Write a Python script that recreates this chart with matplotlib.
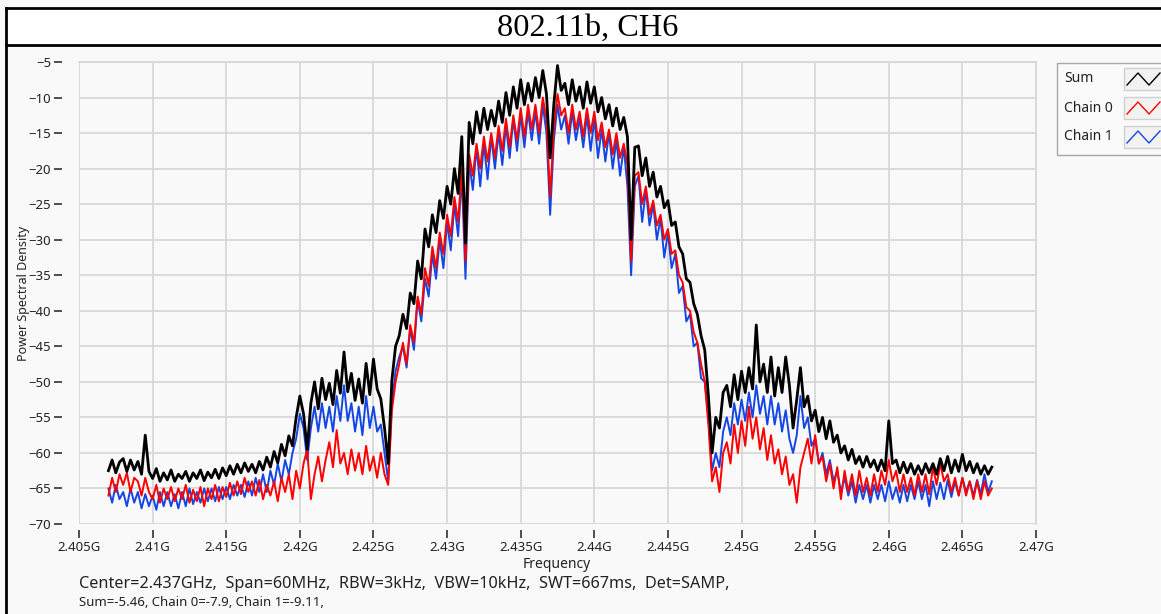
import numpy as np
import matplotlib.pyplot as plt
from matplotlib.patches import Rectangle
from matplotlib.lines import Line2D
from matplotlib.ticker import FuncFormatter

plt.rcParams['font.family'] = ['Noto Sans', 'DejaVu Sans']

# ---- data, 2.407 GHz .. 2.467 GHz, 0.25 MHz step ----
f_start_ghz = 2.407
f_stop_ghz = 2.467

sum_db = [
    -62.5, -61.0, -62.8, -61.3,  # 2.407
    -60.8, -62.6, -61.0, -62.4,
    -61.2, -63.0, -57.5, -62.6,
    -63.6, -62.2, -64.0, -62.8,  # 2.410
    -63.8, -62.4, -64.0, -63.0,
    -63.6, -62.6, -64.0, -62.8,
    -63.6, -62.4, -63.9, -62.7,
    -63.5, -62.3, -63.6, -62.1,
    -63.2, -61.8, -63.0, -61.6,  # 2.415
    -62.8, -61.4, -62.6, -61.6,
    -62.8, -61.2, -62.4, -60.6,
    -62.0, -59.8, -61.4, -58.8,
    -60.4, -57.6, -59.0, -55.0,
    -52.0, -54.5, -59.5, -53.0,  # 2.420
    -50.0, -53.8, -49.5, -52.5,
    -50.2, -53.2, -48.4, -51.6,
    -45.8, -51.4, -48.8, -52.6,
    -49.6, -53.0, -47.4, -51.8,
    -46.8, -51.0, -52.4, -56.5,  # 2.425
    -61.5, -49.8, -45.0, -43.5,
    -40.5, -42.5, -37.5, -39.0,
    -33.0, -35.5, -28.5, -31.0,
    -26.5, -29.0, -24.5, -27.0,
    -22.5, -25.0, -20.0, -23.5,  # 2.430
    -15.5, -30.5, -13.5, -16.5,
    -12.0, -15.0, -11.5, -14.5,
    -11.8, -14.0, -10.5, -13.5,
    -9.3, -12.5, -8.5, -11.5,
    -7.5, -11.0, -8.0, -10.5,  # 2.435
    -7.2, -10.0, -6.2, -9.5,
    -18.5, -11.0, -5.5, -9.0,
    -8.0, -11.0, -7.5, -10.5,
    -8.5, -11.5, -7.8, -10.8,
    -8.5, -12.0, -10.0, -13.0,  # 2.440
    -11.0, -14.0, -11.5, -14.5,
    -12.8, -15.5, -30.0, -17.0,
    -16.8, -21.0, -18.5, -22.5,
    -20.5, -24.0, -22.5, -25.5,
    -24.5, -28.0, -27.5, -31.0,  # 2.445
    -32.0, -35.5, -36.0, -39.0,
    -40.5, -43.5, -45.5, -52.0,
    -60.0, -55.0, -56.5, -51.5,
    -50.5, -53.5, -49.0, -52.5,
    -48.5, -51.5, -48.0, -51.0,  # 2.450
    -42.0, -50.0, -47.5, -51.5,
    -46.5, -52.0, -48.0, -51.5,
    -46.5, -50.5, -56.5, -52.5,
    -48.0, -53.5, -52.0, -55.5,
    -54.0, -57.0, -55.0, -58.0,  # 2.455
    -55.5, -58.5, -57.5, -60.0,
    -59.0, -61.0, -59.5, -61.5,
    -60.5, -62.0, -60.5, -62.0,
    -61.0, -62.5, -61.0, -62.5,
    -55.5, -61.5, -61.0, -62.8,  # 2.460
    -61.3, -62.8, -61.5, -63.0,
    -61.8, -63.0, -61.5, -62.8,
    -61.5, -63.0, -60.8, -62.5,
    -60.5, -62.8, -61.0, -62.6,
    -60.2, -62.5, -61.2, -62.8,  # 2.465
    -61.5, -63.0, -61.8, -63.0,
    -62.0,
]

chain0_db = [
    -66.0, -63.5, -65.5, -63.0,  # 2.407
    -64.5, -62.8, -65.5, -63.5,
    -64.0, -66.0, -63.5, -65.5,
    -66.5, -64.5, -67.0, -65.0,  # 2.410
    -66.5, -64.8, -66.8, -65.0,
    -66.5, -64.5, -67.0, -65.2,
    -66.8, -64.8, -67.5, -65.0,
    -66.5, -64.5, -66.8, -64.8,
    -66.2, -64.2, -66.0, -64.0,  # 2.415
    -65.8, -63.5, -65.5, -64.0,
    -66.0, -63.8, -66.5, -64.5,
    -66.0, -64.0, -66.8, -63.5,
    -65.5, -63.0, -66.5, -62.5,
    -65.0, -61.5, -59.5, -66.5,  # 2.420
    -63.0, -60.5, -64.0, -61.0,
    -58.5, -62.0, -56.8, -61.5,
    -60.0, -63.0, -59.5, -62.5,
    -60.0, -63.0, -59.0, -62.5,
    -60.5, -63.5, -60.0, -63.0,  # 2.425
    -64.5, -54.0, -50.0, -47.5,
    -44.5, -47.5, -42.0, -44.5,
    -38.0, -40.5, -34.0, -36.5,
    -31.0, -34.0, -29.0, -32.0,
    -26.5, -29.5, -24.0, -27.5,  # 2.430
    -20.0, -33.0, -18.0, -21.0,
    -16.5, -20.0, -15.5, -19.0,
    -15.0, -18.5, -14.0, -17.5,
    -13.0, -17.0, -12.5, -16.0,
    -11.5, -15.5, -11.0, -14.5,  # 2.435
    -11.0, -15.0, -10.0, -13.0,
    -24.0, -14.5, -9.5, -12.5,
    -11.5, -15.0, -11.0, -14.5,
    -12.0, -15.5, -11.5, -15.0,
    -12.0, -16.0, -13.5, -17.0,  # 2.440
    -14.5, -18.0, -15.0, -18.5,
    -16.5, -19.5, -33.0, -21.0,
    -20.5, -25.0, -22.5, -26.5,
    -24.5, -28.0, -26.5, -30.0,
    -28.5, -32.0, -31.5, -35.0,  # 2.445
    -36.0, -39.5, -40.0, -43.0,
    -44.5, -47.5, -50.0, -56.0,
    -64.0, -62.0, -65.5, -60.0,
    -58.5, -61.5, -56.0, -60.0,
    -55.5, -59.0, -53.5, -58.0,  # 2.450
    -55.0, -59.5, -56.5, -61.0,
    -57.5, -61.5, -59.5, -63.0,
    -60.5, -64.5, -63.0, -67.0,
    -62.0, -60.0, -58.0, -61.5,
    -57.5, -61.5, -60.5, -64.0,  # 2.455
    -61.5, -65.0, -62.0, -66.5,
    -62.5, -65.5, -63.0, -66.0,
    -62.5, -65.5, -63.5, -66.0,
    -63.0, -65.5, -62.5, -64.5,
    -61.0, -64.0, -62.5, -65.5,  # 2.460
    -63.0, -65.5, -63.5, -66.0,
    -63.0, -65.5, -63.0, -65.8,
    -62.0, -64.5, -61.5, -64.0,
    -63.0, -65.5, -63.5, -66.0,
    -63.5, -66.0, -64.0, -66.5,  # 2.465
    -64.0, -66.5, -64.0, -66.0,
    -65.0,
]

chain1_db = [
    -65.0, -67.0, -64.5, -66.5,  # 2.407
    -65.5, -67.5, -65.0, -67.0,
    -65.5, -67.8, -65.8, -67.5,
    -66.0, -68.0, -65.5, -67.5,  # 2.410
    -65.5, -67.5, -65.8, -67.8,
    -65.5, -67.5, -65.0, -67.2,
    -65.5, -67.0, -65.0, -66.8,
    -65.0, -66.8, -64.8, -66.5,
    -64.8, -66.5, -64.5, -66.0,  # 2.415
    -64.5, -66.2, -64.0, -66.0,
    -63.5, -65.5, -63.0, -65.5,
    -62.5, -64.5, -61.5, -64.0,
    -61.0, -63.0, -60.0, -58.0,
    -54.5, -56.5, -61.0, -56.5,  # 2.420
    -53.5, -57.0, -53.0, -56.5,
    -53.5, -57.0, -52.0, -55.5,
    -50.5, -55.5, -53.0, -57.0,
    -53.5, -57.5, -52.0, -56.5,
    -53.5, -57.0, -56.0, -60.0,  # 2.425
    -64.0, -53.0, -48.5, -46.5,
    -45.0, -48.0, -42.5, -45.5,
    -38.5, -41.5, -35.5, -38.0,
    -32.0, -35.5, -30.0, -34.0,
    -27.5, -31.5, -25.0, -29.5,  # 2.430
    -21.0, -35.5, -19.0, -23.0,
    -17.0, -22.5, -16.5, -21.5,
    -15.5, -20.0, -15.0, -19.5,
    -14.0, -18.5, -13.0, -17.5,
    -12.5, -17.0, -12.0, -16.0,  # 2.435
    -12.0, -16.5, -11.0, -15.0,
    -26.5, -16.0, -11.0, -14.5,
    -12.5, -16.5, -12.0, -16.0,
    -13.0, -17.0, -12.5, -17.5,
    -13.0, -18.5, -14.5, -19.0,  # 2.440
    -15.0, -20.0, -16.0, -21.0,
    -17.0, -22.5, -35.0, -22.5,
    -21.0, -27.5, -23.0, -28.0,
    -25.0, -30.0, -27.0, -32.5,
    -29.0, -34.0, -32.0, -37.5,  # 2.445
    -36.5, -41.5, -40.5, -45.0,
    -44.5, -49.5, -50.0, -55.0,
    -62.5, -60.0, -62.0, -57.0,
    -55.0, -57.5, -53.0, -56.0,
    -52.5, -55.5, -51.5, -55.0,  # 2.450
    -50.5, -54.5, -52.0, -56.0,
    -52.0, -56.0, -53.0, -57.0,
    -54.0, -58.0, -60.0, -57.5,
    -52.0, -56.5, -55.0, -59.0,
    -58.0, -61.5, -60.0, -63.0,  # 2.455
    -61.0, -64.0, -62.5, -65.5,
    -63.5, -66.0, -64.0, -67.0,
    -64.5, -66.5, -64.5, -67.0,
    -64.5, -66.5, -64.5, -66.8,
    -64.0, -66.5, -64.8, -67.0,  # 2.460
    -64.5, -66.8, -64.5, -66.5,
    -64.0, -66.5, -64.5, -67.5,
    -64.0, -66.5, -64.2, -66.5,
    -63.8, -66.2, -64.0, -66.0,
    -63.5, -65.5, -64.0, -66.0,  # 2.465
    -63.8, -65.8, -63.0, -65.5,
    -64.0,
]

x_ticks_ghz = [2.405, 2.41, 2.415, 2.42, 2.425, 2.43, 2.435, 2.44,
               2.445, 2.45, 2.455, 2.46, 2.465, 2.47]
y_ticks = list(range(-70, 0, 5))

series_names = ['Sum', 'Chain 0', 'Chain 1']
series_colors = ['#000000', '#ff0000', '#1446e6']

title = '802.11b, CH6'
info_line1 = 'Center=2.437GHz,  Span=60MHz,  RBW=3kHz,  VBW=10kHz,  SWT=667ms,  Det=SAMP,'
info_line2 = 'Sum=-5.46, Chain 0=-7.9, Chain 1=-9.11,'

# ---- figure ----
W, H = 1161, 614


def fx(px):
    return px / W


def fy(py):
    return 1 - py / H


fig = plt.figure(figsize=(W / 100, H / 100), dpi=100, facecolor='#f9f9f9')

# title cell and outer frame
fig.add_artist(Rectangle((fx(6), fy(45)), 1.0, fy(8) - fy(45),
                         transform=fig.transFigure, facecolor='white', edgecolor='none'))
fig.add_artist(Line2D([fx(6), fx(6)], [fy(8), 0], transform=fig.transFigure, color='black', lw=2))
fig.add_artist(Line2D([fx(6), 1], [fy(8), fy(8)], transform=fig.transFigure, color='black', lw=2))
fig.add_artist(Line2D([fx(6), 1], [fy(45), fy(45)], transform=fig.transFigure, color='black', lw=2))
fig.text(fx(588), fy(28), title, ha='center', va='center', fontsize=23.3,
         family=['Liberation Serif', 'DejaVu Serif'])

ax = fig.add_axes([fx(79), fy(524), fx(1036) - fx(79), fy(62) - fy(524)])
ax.set_facecolor('#f9f9f9')

freq = np.linspace(f_start_ghz * 1e9, f_stop_ghz * 1e9, len(sum_db))
ax.plot(freq, chain1_db, color=series_colors[2], lw=1.4)
ax.plot(freq, chain0_db, color=series_colors[1], lw=1.4)
ax.plot(freq, sum_db, color=series_colors[0], lw=2.0)

ax.set_xlim(2.405e9, 2.47e9)
ax.set_ylim(-70, -5)
ax.set_xticks([v * 1e9 for v in x_ticks_ghz])
ax.set_yticks(y_ticks)
ax.xaxis.set_major_formatter(FuncFormatter(lambda v, p: f'{v / 1e9:g}G'))
ax.grid(True, color='#d8d8d8', lw=1.3)
ax.set_axisbelow(True)

for s in ['top', 'right']:
    ax.spines[s].set_color('#d8d8d8')
    ax.spines[s].set_linewidth(1.3)
ax.spines['left'].set_position(('outward', 12))
ax.spines['bottom'].set_position(('outward', 4))
ax.spines['left'].set_color('none')
ax.spines['bottom'].set_color('none')
ax.tick_params(direction='out', length=6, width=1.3, color='#404040',
               labelsize=9.5, labelcolor='#222222', pad=2)

fig.text(fx(24), fy(293), 'Power Spectral Density', rotation=90,
         ha='center', va='center', fontsize=9, color='#222222')
fig.text(fx(557), fy(565), 'Frequency', ha='center', va='center',
         fontsize=10, color='#222222')
fig.text(fx(79), fy(584), info_line1, ha='left', va='center', fontsize=11.7, color='#222222')
fig.text(fx(79), fy(602), info_line2, ha='left', va='center', fontsize=9.5, color='#222222')

# legend (drawn by hand, it runs off the right edge like the original)
fig.add_artist(Rectangle((fx(1057), fy(155)), 1.0, fy(63) - fy(155),
                         transform=fig.transFigure, facecolor='#fafafa',
                         edgecolor='#a8a8a8', lw=1))
for i, (name, col) in enumerate(zip(series_names, series_colors)):
    yc = 79 + 29 * i
    fig.text(fx(1064), fy(yc), name, ha='left', va='center', fontsize=10, color='#222222')
    fig.add_artist(Rectangle((fx(1124), fy(yc + 11)), 1.0, fy(yc - 11) - fy(yc + 11),
                             transform=fig.transFigure, facecolor='#f2f2f2',
                             edgecolor='#d0d0d0', lw=1))
    zx = [1127, 1138, 1149, 1160]
    zy = [yc + 6, yc - 6, yc + 6, yc - 6]
    fig.add_artist(Line2D([fx(v) for v in zx], [fy(v) for v in zy],
                          transform=fig.transFigure, color=col, lw=1))

fig.savefig('out.png', dpi=100, facecolor=fig.get_facecolor())
